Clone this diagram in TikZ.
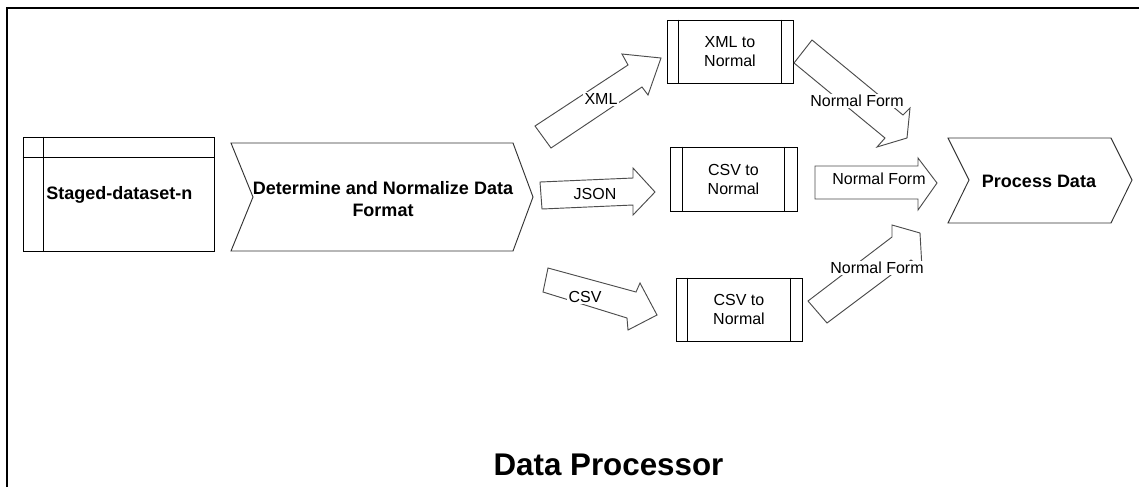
\documentclass[tikz,border=0pt]{standalone}
\usepackage{fontspec}
\setmainfont{Liberation Sans}
\usetikzlibrary{calc}
\begin{document}
\begin{tikzpicture}[x=0.75pt,y=-0.75pt,
  frameline/.style={line width=1.9pt, draw=black},
  box/.style={draw=black, line width=0.7pt, rectangle, inner sep=0pt},
  inner/.style={draw=black, line width=0.7pt},
  chev/.style={draw=black!80, line width=0.7pt, fill=white, line join=miter},
  blockarr/.style={draw=black!70, line width=0.7pt, fill=white, line join=miter},
  lbl/.style={fill=white, inner sep=1pt, font=\fontsize{12}{14}\selectfont},
  boxtext/.style={align=center, font=\fontsize{12}{14.25}\selectfont},
  boldtext/.style={inner sep=0pt, font=\fontsize{13.5}{16.5}\selectfont\bfseries},
  titletext/.style={inner sep=0pt, font=\fontsize{23.5}{28}\selectfont\bfseries}]

\useasboundingbox (0,0) rectangle (1139,487);

% frame
\draw[frameline] (7,487) -- (7,8) -- (1139,8);

% staged dataset table
\node[box, minimum width=143.25pt, minimum height=85.5pt] (staged) at (118.5,194) {};
\draw[inner] ($(staged.north west)+(21,0)$) -- ($(staged.south west)+(21,0)$);
\draw[inner] ($(staged.north west)+(0,21)$) -- ($(staged.north east)+(0,21)$);
\node[boldtext, anchor=west] (stagedtxt) at (46,195) {Staged-dataset-n};

% determine chevron
\draw[chev] (231,143) -- (513,143) -- (533,197) -- (513,251) -- (231,251) -- (253,197) -- cycle;
\node[boldtext, align=center] (determine) at (383,199) {Determine and Normalize Data\\Format};

% process chevron
\draw[chev] (948,138) -- (1111,138) -- (1132,180) -- (1111,223) -- (948,223) -- (969,180) -- cycle;
\node[boldtext] (process) at (1039,181) {Process Data};

% processing boxes
\node[box, minimum width=94.5pt, minimum height=47.25pt, boxtext] (xmlbox) at (730,51.5) {XML to\\Normal};
\draw[inner] ($(xmlbox.north west)+(12,0)$) -- ($(xmlbox.south west)+(12,0)$);
\draw[inner] ($(xmlbox.north east)+(-12,0)$) -- ($(xmlbox.south east)+(-12,0)$);

\node[box, minimum width=95.25pt, minimum height=48pt, boxtext] (csvmid) at (733.5,179) {CSV to\\Normal};
\draw[inner] ($(csvmid.north west)+(13,0)$) -- ($(csvmid.south west)+(13,0)$);
\draw[inner] ($(csvmid.north east)+(-13,0)$) -- ($(csvmid.south east)+(-13,0)$);

\node[box, minimum width=94.5pt, minimum height=47.25pt, boxtext] (csvbot) at (739,309.5) {CSV to\\Normal};
\draw[inner] ($(csvbot.north west)+(12,0)$) -- ($(csvbot.south west)+(12,0)$);
\draw[inner] ($(csvbot.north east)+(-12,0)$) -- ($(csvbot.south east)+(-12,0)$);

% block arrows
\draw[blockarr] (535,126) -- (628,65) -- (622,54) -- (661,58) -- (648,95) -- (642,87) -- (551,148) -- cycle;
\draw[blockarr] (540,182) -- (633,178) -- (633,168) -- (655,192) -- (633,215) -- (633,205) -- (542,209) -- cycle;
\draw[blockarr] (548,268) -- (636,292) -- (640,283) -- (657,315) -- (628,330) -- (627,318) -- (543,292) -- cycle;
\draw[blockarr] (812,40) -- (903,115) -- (910,108) -- (907,138) -- (877,147) -- (885,138) -- (794,63) -- cycle;
\draw[blockarr] (815,166) -- (918,166) -- (918,158) -- (937,183) -- (918,210) -- (918,199) -- (815,199) -- cycle;
\draw[blockarr] (808,301) -- (892,237) -- (892,225) -- (920,233) -- (922,268) -- (911,260) -- (827,323) -- cycle;

% arrow labels
\node[lbl] (lxml) at (601,99) {XML};
\node[lbl] (ljson) at (595,194) {JSON};
\node[lbl] (lcsv) at (585,297) {CSV};
\node[lbl] (lnf1) at (857,101) {Normal Form};
\node[lbl] (lnf2) at (879,179) {Normal Form};
\node[lbl] (lnf3) at (877,268) {Normal Form};

% title
\node[titletext] (title) at (608.5,465) {Data Processor};
\end{tikzpicture}
\end{document}
